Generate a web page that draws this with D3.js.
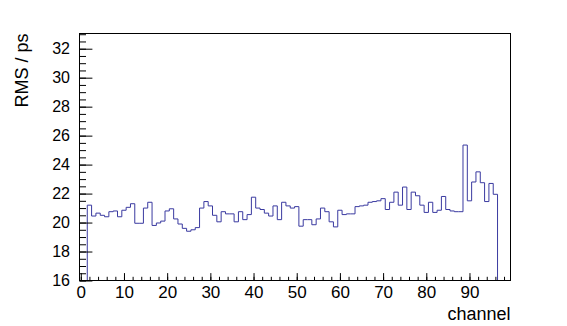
<!DOCTYPE html>
<html>
<head>
<meta charset="utf-8">
<script src="https://cdn.jsdelivr.net/npm/d3@7"></script>
<style>
  body { margin: 0; background: #fff; }
  text { font-family: "Liberation Sans", Arial, sans-serif; fill: #000; }
</style>
</head>
<body>
<svg id="chart" width="567" height="326"></svg>
<script>
// RMS per channel, channels 2..96 (others empty)
var firstChannel = 2;
var rmsValues = [
  21.2, 20.45, 20.65, 20.5, 20.4, 20.75, 20.8, 20.4, 20.85, 21.05,   // 2-11
  21.3, 19.95, 19.95, 21.0, 21.4, 19.8, 19.97, 20.1, 20.8, 20.95,    // 12-21
  20.25, 19.9, 19.6, 19.4, 19.5, 19.65, 21.0, 21.45, 21.15, 20.5,    // 22-31
  20.05, 20.75, 20.6, 20.6, 20.05, 20.75, 20.2, 20.55, 21.75, 21.0,  // 32-41
  20.9, 20.65, 20.45, 21.15, 20.2, 21.4, 21.15, 21.0, 21.1, 19.75,   // 42-51
  20.2, 20.2, 19.85, 20.25, 21.0, 20.75, 20.05, 19.7, 20.85, 20.55,  // 52-61
  20.6, 20.6, 21.1, 21.15, 21.2, 21.4, 21.45, 21.5, 21.65, 20.9,     // 62-71
  21.4, 22.1, 21.2, 22.45, 20.9, 22.1, 21.85, 21.2, 20.7, 21.4,      // 72-81
  20.7, 20.85, 21.8, 20.9, 20.8, 20.75, 20.75, 25.35, 21.5, 22.8,    // 82-91
  23.5, 22.75, 21.45, 22.7, 21.95                                    // 92-96
];
var nBins = 100;
var xTicks = [0, 10, 20, 30, 40, 50, 60, 70, 80, 90];
var yTicks = [16, 18, 20, 22, 24, 26, 28, 30, 32];
var xTitle = "channel";
var yTitle = "RMS / ps";

var svg = d3.select("#chart"),
    margin = {top: 33.5, right: 56.5, bottom: 45.5, left: 79.5},
    width = +svg.attr("width") - margin.left - margin.right,
    height = +svg.attr("height") - margin.top - margin.bottom,
    g = svg.append("g").attr("transform", "translate(" + margin.left + "," + margin.top + ")");

var x = d3.scaleLinear().domain([-0.3, 99.5]).range([0, width]);
var y = d3.scaleLinear().domain([16, 33.05]).range([height, 0]);

// build bins: left edge + content
var bins = d3.range(nBins).map(function(i) {
  var j = i - firstChannel;
  var v = (j >= 0 && j < rmsValues.length) ? rmsValues[j] : 0;
  return {x0: i - 0.5, v: v};
});
bins.push({x0: nBins - 0.5, v: bins[nBins - 1].v});

svg.append("defs").append("clipPath").attr("id", "clip")
  .append("rect").attr("x", 0).attr("y", 0).attr("width", width).attr("height", height);

var line = d3.line()
  .x(function(d) { return x(d.x0); })
  .y(function(d) { return y(Math.max(d.v, y.domain()[0])); })
  .curve(d3.curveStepAfter);

g.append("path")
  .datum(bins)
  .attr("clip-path", "url(#clip)")
  .attr("fill", "none")
  .attr("stroke", "#3a3aa0")
  .attr("stroke-width", 1)
  .attr("d", line);

// minor ticks
g.append("g")
  .attr("transform", "translate(0," + height + ")")
  .call(d3.axisBottom(x).tickValues(d3.range(0, 100, 2)).tickSize(-3.7).tickFormat(""))
  .call(function(a) { a.select(".domain").remove(); });
g.append("g")
  .call(d3.axisLeft(y).tickValues(d3.range(16, 33.01, 0.5)).tickSize(-6.5).tickFormat(""))
  .call(function(a) { a.select(".domain").remove(); });

// major ticks + labels
var xAxis = g.append("g")
  .attr("transform", "translate(0," + height + ")")
  .call(d3.axisBottom(x).tickValues(xTicks).tickSize(-7.4).tickPadding(5));
xAxis.select(".domain").remove();
xAxis.selectAll("text").style("font-size", "17px");

var yAxis = g.append("g")
  .call(d3.axisLeft(y).tickValues(yTicks).tickSize(-12.9).tickPadding(9.5));
yAxis.select(".domain").remove();
yAxis.selectAll("text").style("font-size", "16px");

g.selectAll(".tick line").attr("stroke", "#000");

// frame
g.append("rect")
  .attr("width", width).attr("height", height)
  .attr("fill", "none").attr("stroke", "#000").attr("stroke-width", 1);

// titles
svg.append("text")
  .attr("x", margin.left + width).attr("y", 320)
  .attr("text-anchor", "end")
  .style("font-size", "18px")
  .text(xTitle);

svg.append("text")
  .attr("transform", "translate(28," + margin.top + ") rotate(-90)")
  .attr("text-anchor", "end")
  .style("font-size", "18px")
  .text(yTitle);
</script>
</body>
</html>
